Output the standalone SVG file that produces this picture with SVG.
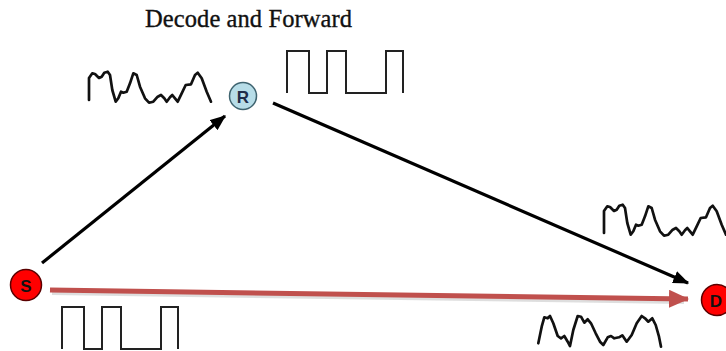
<svg xmlns="http://www.w3.org/2000/svg" xmlns:xlink="http://www.w3.org/1999/xlink" width="726" height="351" viewBox="0 0 726 351">
<style>
.title{font-family:"Liberation Serif","Times New Roman",serif;font-size:24.5px;fill:#111;stroke:#111;stroke-width:0.35}
.lbl{font-family:"Liberation Sans",Arial,sans-serif;font-weight:bold;font-size:17px;text-anchor:middle;dominant-baseline:central}
.red{fill:#ff0000;stroke:#5a0000;stroke-width:1.5}
.relay{fill:#b7dde8;stroke:#3f6470;stroke-width:1.5}
.wave{fill:none;stroke:#111;stroke-width:2.7;stroke-linejoin:round;stroke-linecap:round}
.sq{fill:none;stroke:#222;stroke-width:2}
.blk{stroke:#000;stroke-width:3.2;fill:none}
.redl{stroke:#c0504d;stroke-width:5;fill:none}
.shadow{stroke:#a0a0a0;stroke-opacity:0.35;stroke-width:5;fill:none}
</style>
<defs>
<marker id="ah" markerWidth="5" markerHeight="4" refX="4.6" refY="2" orient="auto" markerUnits="strokeWidth">
<path d="M0,0 L5,2 L0,4 Z" fill="#000"/>
</marker>
<marker id="ahr" markerWidth="4" markerHeight="3.6" refX="3.8" refY="1.8" orient="auto" markerUnits="strokeWidth">
<path d="M0,0 L4,1.8 L0,3.6 Z" fill="#c0504d"/>
</marker>
<path id="noise" d="M0,0 L0,-22 L3.3,-26.7 L6,-26 L10,-22 L12.7,-23.3 L15.3,-27.3 L18.7,-28.3 L21,-25 L23.3,-10 L26.7,1.7 L29.3,-1.7 L32,-8.3 L34.3,-7.3 L37.7,-8.3 L41,-16.7 L44.3,-26.7 L47.7,-25 L51,-13.3 L56,-1.7 L60,2.7 L64.3,1.7 L68.7,-3.3 L72,-5 L75.3,-1.7 L77.7,1.7 L81,-2.7 L83.3,-5 L86,-1.7 L88.7,1.7 L92.7,-6.7 L96.7,-15 L102,-15.7 L106,-25 L108.7,-27.3 L112.7,-21.7 L117.7,-8.3 L122,1.7"/>
<path id="square" d="M0,42 L0,0 L22,0 L22,42 L40,42 L40,0 L59,0 L59,42 L99,42 L99,0 L116,0 L116,42"/>
</defs>

<text class="title" x="145" y="27" textLength="207">Decode and Forward</text>

<g id="connectors">
<line class="shadow" x1="52" y1="292.5" x2="684" y2="301.5"/>
<line class="redl" x1="50" y1="290" x2="688" y2="299" marker-end="url(#ahr)"/>
<line class="blk" x1="42" y1="263" x2="225" y2="116" marker-end="url(#ah)"/>
<line class="blk" x1="273" y1="103" x2="688" y2="283" marker-end="url(#ah)"/>
</g>

<g id="signals">
<use xlink:href="#noise" class="wave" transform="translate(89,100)"/>
<use xlink:href="#noise" class="wave" transform="translate(604,233)"/>
<path class="wave" d="M538.3,343.3 L541.7,326.7 L544.3,317.3 L547.7,318.3 L550,316 L553.3,323.3 L557.7,336 L561,338.3 L564.3,336 L567.7,341.7 L570,346 L573.3,330 L577.7,316 L581,316.7 L584.3,322.7 L587.7,319.3 L591,323.3 L595.7,333.3 L600,341.7 L603.3,345 L607.7,337.3 L611,336 L614.3,338.3 L619,337.3 L622.3,335.3 L626.7,341.7 L631.7,335 L636.7,323.3 L641.7,316 L645,318.3 L648.3,321.7 L652.3,318.3 L655.7,325 L659,336.7 L661,346.7"/>
<use xlink:href="#square" class="sq" transform="translate(287,51)"/>
<use xlink:href="#square" class="sq" transform="translate(62,307)"/>
</g>

<g id="node-S">
<circle class="red" cx="26" cy="285" r="15.5"/>
<text class="lbl" x="26" y="286" fill="#111">S</text>
</g>
<g id="node-R">
<circle class="relay" cx="243" cy="96" r="13.5"/>
<text class="lbl" x="243" y="97" fill="#1f2d4a">R</text>
</g>
<g id="node-D">
<circle class="red" cx="717" cy="300" r="15.5"/>
<text class="lbl" x="716" y="301" fill="#111">D</text>
</g>
</svg>
